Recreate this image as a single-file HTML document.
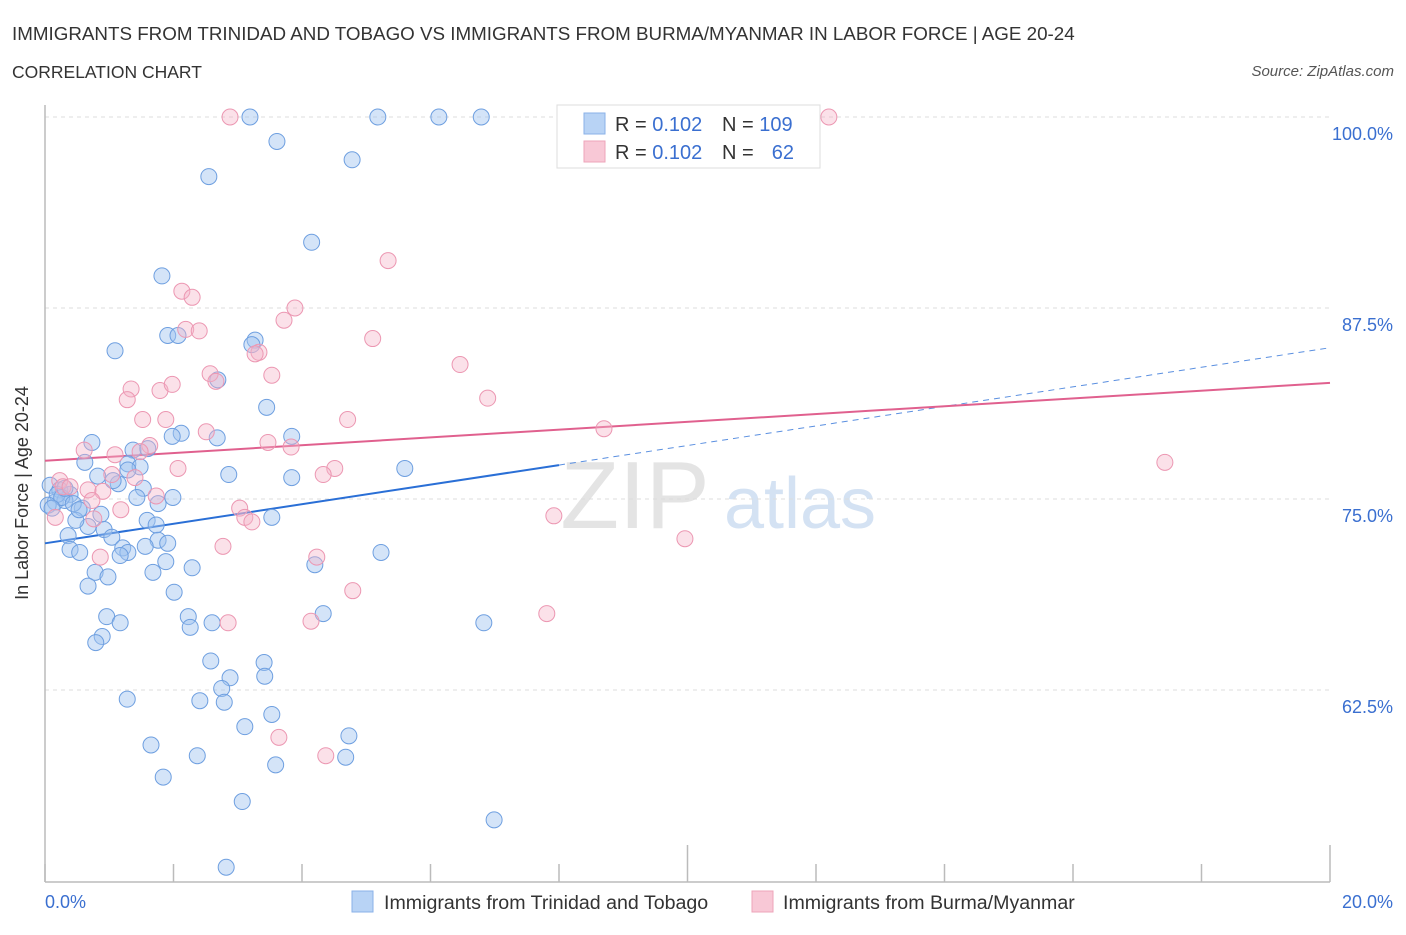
<!DOCTYPE html>
<html><head><meta charset="utf-8"><style>
body{margin:0;background:#fff;width:1406px;height:930px;overflow:hidden;font-family:"Liberation Sans",sans-serif}
svg text{font-family:"Liberation Sans",sans-serif}
</style></head><body>
<svg id="chart" width="1406" height="930">
<text x="12" y="40" font-size="18.8" fill="#333">IMMIGRANTS FROM TRINIDAD AND TOBAGO VS IMMIGRANTS FROM BURMA/MYANMAR IN LABOR FORCE | AGE 20-24</text>
<text x="12" y="78" font-size="17.5" fill="#333">CORRELATION CHART</text>
<text x="1394" y="76" font-size="15" fill="#555" font-style="italic" text-anchor="end">Source: ZipAtlas.com</text>
<text x="635" y="528" font-size="96" fill="#e4e4e4" font-family="Liberation Serif" text-anchor="middle">ZIP</text>
<text x="800" y="528" font-size="72" fill="#d4e2f3" text-anchor="middle">atlas</text>
<g id="grid"></g><g id="axes"></g><g id="lines"></g><g id="pts"></g>
<text x="28" y="493" font-size="18" fill="#333" text-anchor="middle" transform="rotate(-90 28 493)">In Labor Force | Age 20-24</text>
<text x="45" y="908" font-size="18" fill="#3a6fd0">0.0%</text>
<text x="1393" y="908" font-size="18" fill="#3a6fd0" text-anchor="end">20.0%</text>
<g>
<rect x="352" y="891" width="21" height="21" fill="#b8d3f5" stroke="#8ab2e8"/>
<text x="384" y="909" font-size="19.6" fill="#333">Immigrants from Trinidad and Tobago</text>
<rect x="752" y="891" width="21" height="21" fill="#f8c8d6" stroke="#eea4ba"/>
<text x="783" y="909" font-size="19.6" fill="#333">Immigrants from Burma/Myanmar</text>
</g>
<g>
<rect x="557" y="105" width="263" height="63" fill="#fff" stroke="#ddd"/>
<rect x="584" y="113" width="21" height="21" fill="#b8d3f5" stroke="#8ab2e8"/>
<rect x="584" y="141" width="21" height="21" fill="#f8c8d6" stroke="#eea4ba"/>
<text x="615" y="131" font-size="20" fill="#333">R = <tspan fill="#3a6fd0">0.102</tspan></text>
<text x="722" y="131" font-size="20" fill="#333">N = <tspan fill="#3a6fd0">109</tspan></text>
<text x="615" y="159" font-size="20" fill="#333">R = <tspan fill="#3a6fd0">0.102</tspan></text>
<text x="722" y="159" font-size="20" fill="#333">N =</text>
<text x="794" y="159" font-size="20" fill="#3a6fd0" text-anchor="end">62</text>
</g>
</svg>
<script>
const yTicks=[100,87.5,75,62.5];
const yTickLabels=["100.0%","87.5%","75.0%","62.5%"];
const xTicks=[0,2,4,6,8,10,12,14,16,18,20];
const blueX=[3.19,5.18,6.13,6.79,3.61,4.78,2.55,4.15,1.82,1.91,2.07,3.27,3.22,1.09,2.69,3.45,2.12,1.98,3.84,2.68,0.73,1.37,1.60,0.62,1.29,1.48,5.60,2.86,3.84,0.82,1.14,1.53,0.08,0.23,0.39,1.99,1.43,1.76,0.16,0.31,0.58,0.87,1.59,1.73,0.67,0.48,0.92,1.04,0.36,1.76,1.91,1.56,1.21,0.39,0.54,1.29,1.17,3.53,5.23,1.88,2.29,0.78,0.98,1.68,4.20,0.67,2.01,4.33,0.96,2.23,1.17,2.60,2.26,0.89,0.79,2.58,3.41,2.88,3.42,2.75,2.41,2.79,1.28,3.53,3.11,4.73,1.65,2.37,4.68,3.59,1.84,3.07,6.99,2.82,6.83,0.19,0.26,0.05,0.11,0.31,0.44,1.06,1.29,0.53];
const blueY=[100,100,100,100,98.4,97.2,96.1,91.8,89.6,85.7,85.7,85.4,85.1,84.7,82.8,81.0,79.3,79.1,79.1,79.0,78.7,78.2,78.3,77.4,77.3,77.1,77.0,76.6,76.4,76.5,76.0,75.7,75.9,75.6,75.3,75.1,75.1,74.7,74.8,74.9,74.4,74.0,73.6,73.3,73.2,73.6,73.0,72.5,72.6,72.3,72.1,71.9,71.8,71.7,71.5,71.5,71.3,73.8,71.5,70.9,70.5,70.2,69.9,70.2,70.7,69.3,68.9,67.5,67.3,67.3,66.9,66.9,66.6,66.0,65.6,64.4,64.3,63.3,63.4,62.6,61.8,61.7,61.9,60.9,60.1,59.5,58.9,58.2,58.1,57.6,56.8,55.2,54.0,50.9,66.9,75.3,75.1,74.6,74.4,75.7,74.7,76.2,76.9,74.3];
const pinkX=[2.88,12.20,5.34,2.13,2.29,3.89,3.72,2.19,2.40,5.10,3.33,3.27,6.46,2.57,3.53,2.66,1.34,1.79,1.98,1.28,6.89,1.52,4.71,1.88,2.51,8.70,3.47,3.83,1.63,0.61,1.09,2.07,4.51,4.33,17.43,1.48,0.23,1.04,1.40,0.28,0.67,0.90,1.73,3.03,3.11,3.22,1.18,0.16,7.92,0.76,9.96,2.77,4.23,0.86,4.79,4.14,2.85,7.81,3.64,4.37,0.39,0.73];
const pinkY=[100,100,90.6,88.6,88.2,87.5,86.7,86.1,86.0,85.5,84.6,84.5,83.8,83.2,83.1,82.7,82.2,82.1,82.5,81.5,81.6,80.2,80.2,80.2,79.4,79.6,78.7,78.4,78.5,78.2,77.9,77.0,77.0,76.6,77.4,78.1,76.2,76.6,76.4,75.8,75.6,75.5,75.2,74.4,73.8,73.5,74.3,73.8,73.9,73.7,72.4,71.9,71.2,71.2,69.0,67.0,66.9,67.5,59.4,58.2,75.8,74.9];
const blueFit=[72.1,84.9];
const pinkFit=[77.5,82.6];
const X0=45,X1=1330,YT=117,PERPCT=15.28;
const xs=v=>X0+(X1-X0)*v/20;
const ys=v=>YT+(100-v)*PERPCT;
const NS='http://www.w3.org/2000/svg';
function mk(tag,attrs,parent){const e=document.createElementNS(NS,tag);for(const k in attrs)e.setAttribute(k,attrs[k]);document.getElementById(parent).appendChild(e);return e;}
yTicks.forEach((t,i)=>{
 const l=mk('line',{x1:X0,x2:X1,y1:ys(t),y2:ys(t),stroke:'#ddd','stroke-dasharray':'4 4'},'grid');
 
 
 const tx=mk('text',{x:1393,y:ys(t)+23,'font-size':18,fill:'#3a6fd0','text-anchor':'end'},'grid');
 tx.textContent=yTickLabels[i];
 
 
});
const ax=mk('line',{x1:X0,x2:X0,y1:105,y2:882,stroke:'#bbb','stroke-width':1.5},'axes');


const bx=mk('line',{x1:X0,x2:X1,y1:882,y2:882,stroke:'#bbb','stroke-width':1.5},'axes');


xTicks.forEach((t,i)=>{
 const top=(t===10||t===20)?845:864;
 const l=mk('line',{x1:xs(t),x2:xs(t),y1:top,y2:882,stroke:'#bbb','stroke-width':1.5},'axes');
 
 
});
const bl=mk('line',{x1:xs(0),y1:ys(blueFit[0]),x2:xs(8),y2:ys(blueFit[0]+(blueFit[1]-blueFit[0])*0.4),stroke:'#2a6fd6','stroke-width':2},'lines');


const bd=mk('line',{x1:xs(8),y1:ys(blueFit[0]+(blueFit[1]-blueFit[0])*0.4),x2:xs(20),y2:ys(blueFit[1]),stroke:'#5a8fe0','stroke-width':1,'stroke-dasharray':'6 5'},'lines');


const pl=mk('line',{x1:xs(0),y1:ys(pinkFit[0]),x2:xs(20),y2:ys(pinkFit[1]),stroke:'#e0608e','stroke-width':2},'lines');


blueX.forEach((x,i)=>{
 const c=mk('circle',{cx:xs(x),cy:ys(blueY[i]),r:8,fill:'rgba(160,196,240,0.45)',stroke:'#6e9fe0','stroke-width':1},'pts');
 
 
});
pinkX.forEach((x,i)=>{
 const c=mk('circle',{cx:xs(x),cy:ys(pinkY[i]),r:8,fill:'rgba(246,180,200,0.4)',stroke:'#ec97b2','stroke-width':1},'pts');
 
 
});
</script>
</body></html>
